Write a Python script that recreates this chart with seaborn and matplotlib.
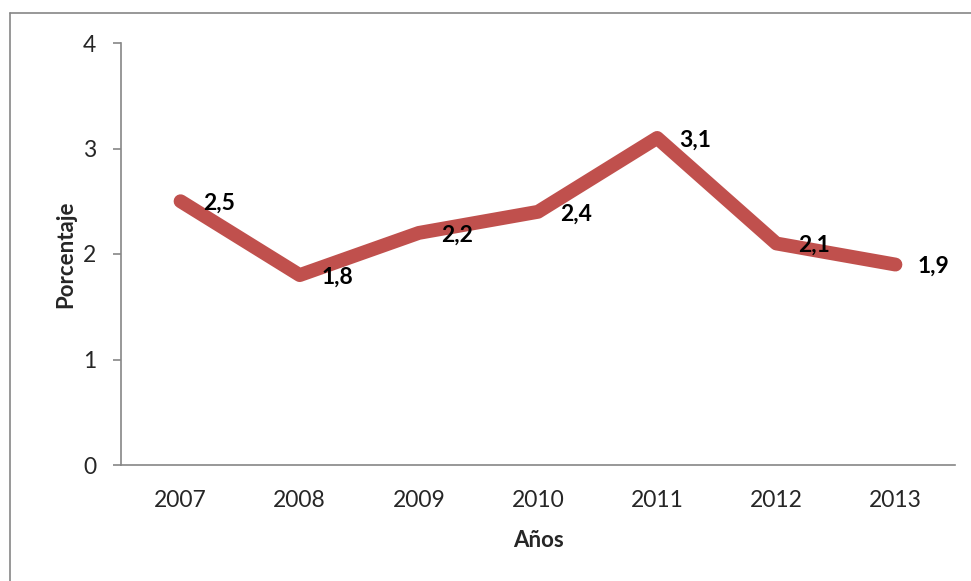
import seaborn as sns
import matplotlib.pyplot as plt
from matplotlib.lines import Line2D
import pandas as pd
import numpy as np

years = ['2007', '2008', '2009', '2010', '2011', '2012', '2013']
values = [2.5, 1.8, 2.2, 2.4, 3.1, 2.1, 1.9]
labels = ['2,5', '1,8', '2,2', '2,4', '3,1', '2,1', '1,9']

df = pd.DataFrame({'year': years, 'value': values})

sns.set_style('white')
plt.rcParams['font.family'] = ['Lato', 'DejaVu Sans']

fig = plt.figure(figsize=(9.71, 5.81), dpi=100)
ax = fig.add_axes([121 / 971, 1 - 465 / 581, (955 - 121) / 971, (465 - 43) / 581])

sns.lineplot(data=df, x='year', y='value', ax=ax, color='#C0504D',
             linewidth=10, solid_capstyle='round', solid_joinstyle='round', sort=False)

for i, (v, t) in enumerate(zip(values, labels)):
    ax.annotate(t, (i, v), xytext=(16, -1.5), textcoords='offset points',
                ha='left', va='center', fontsize=16.5, fontweight='bold', color='black')

ax.set_xlim(-0.5, 6.5)
ax.set_ylim(0, 4)
ax.set_yticks([0, 1, 2, 3, 4])
ax.set_xticks(range(len(years)))
ax.set_xticklabels(years)
ax.set_xticks(np.arange(-0.5, 7, 1), minor=True)

for s in ['top', 'right']:
    ax.spines[s].set_visible(False)
for s in ['left', 'bottom']:
    ax.spines[s].set_color('#868686')
    ax.spines[s].set_linewidth(1.2)

ax.tick_params(axis='x', which='major', length=0, pad=18, labelsize=16.5)
ax.tick_params(axis='x', which='minor', length=6, width=1.2, color='#868686', direction='out')
ax.tick_params(axis='y', which='major', length=6, width=1.2, color='#868686',
               direction='out', pad=12, labelsize=16.5, left=True)

ax.set_xlabel('Años', fontsize=16, fontweight='bold', labelpad=14)
ax.set_ylabel('Porcentaje', fontsize=16, fontweight='bold', labelpad=5)

# outer frame
fig.add_artist(Line2D([10 / 971, 10 / 971], [1 - 13 / 581, 0], color='#868686', linewidth=1.2,
                      transform=fig.transFigure))
fig.add_artist(Line2D([10 / 971, 1], [1 - 13 / 581, 1 - 13 / 581], color='#868686', linewidth=1.2,
                      transform=fig.transFigure))

fig.savefig('out.png', dpi=100)
